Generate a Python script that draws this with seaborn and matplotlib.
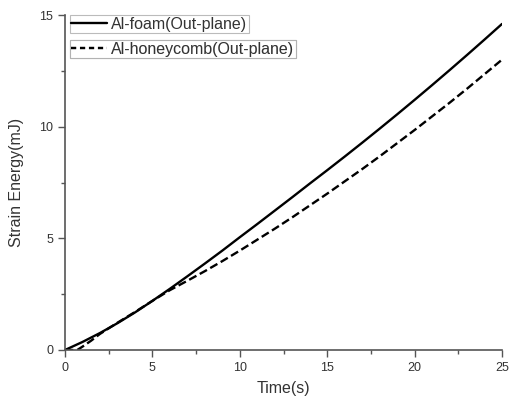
import pandas as pd
import matplotlib.pyplot as plt
import seaborn as sns
from matplotlib.ticker import MultipleLocator
from matplotlib.lines import Line2D

sns.set_style('ticks')
plt.rcParams['font.family'] = ['Liberation Sans', 'DejaVu Sans']
TEXT_COLOR = '#333333'

# Data
foam_time = [0, 1, 2, 3, 4, 5, 6, 7, 8, 9, 10, 11, 12, 13, 14, 15,
             16, 17, 18, 19, 20, 21, 22, 23, 24, 25]
foam_energy = [0, 0.36, 0.76, 1.20, 1.68, 2.20, 2.74, 3.30, 3.87, 4.45, 5.05,
               5.64, 6.24, 6.84, 7.45, 8.05, 8.66, 9.28, 9.91, 10.55, 11.20,
               11.86, 12.53, 13.21, 13.90, 14.60]
honey_time = [0, 0.7, 1, 1.5, 2, 3, 4, 5, 6, 7, 8, 9, 10, 11, 12, 13, 14, 15,
              16, 17, 18, 19, 20, 21, 22, 23, 24, 25]
honey_energy = [0, 0, 0.15, 0.42, 0.72, 1.22, 1.70, 2.20, 2.68, 3.10, 3.53,
                3.98, 4.45, 4.94, 5.43, 5.94, 6.47, 7.00, 7.55, 8.10, 8.67,
                9.26, 9.85, 10.46, 11.07, 11.70, 12.35, 13.00]
labels = ['Al-foam(Out-plane)', 'Al-honeycomb(Out-plane)']

df = pd.concat([
    pd.DataFrame({'time': foam_time, 'energy': foam_energy, 'material': labels[0]}),
    pd.DataFrame({'time': honey_time, 'energy': honey_energy, 'material': labels[1]}),
])

fig = plt.figure(figsize=(5.09, 4.0), dpi=100)
ax = fig.add_axes([65 / 509, 50 / 400, 437 / 509, 335 / 400])

sns.lineplot(data=df, x='time', y='energy', style='material', style_order=labels,
             dashes={labels[0]: '', labels[1]: (3.5, 1.6)}, color='black',
             linewidth=1.7, legend=False, ax=ax)

ax.set_xlim(0, 25)
ax.set_ylim(0, 15)
ax.xaxis.set_major_locator(MultipleLocator(5))
ax.xaxis.set_minor_locator(MultipleLocator(2.5))
ax.yaxis.set_major_locator(MultipleLocator(5))
ax.yaxis.set_minor_locator(MultipleLocator(2.5))
ax.tick_params(which='major', length=5, width=1, colors='#555555', labelsize=9,
               labelcolor=TEXT_COLOR)
ax.tick_params(which='minor', length=3, width=1, colors='#555555')
for side in ['top', 'right']:
    ax.spines[side].set_visible(False)
for side in ['left', 'bottom']:
    ax.spines[side].set_color('#555555')
    ax.spines[side].set_linewidth(1.2)

ax.set_xlabel('Time(s)', fontsize=11.5, color=TEXT_COLOR, labelpad=5)
ax.set_ylabel('Strain Energy(mJ)', fontsize=11.5, color=TEXT_COLOR, labelpad=11)

# two boxed legend entries, like the original
handles = [Line2D([], [], color='black', lw=1.7),
           Line2D([], [], color='black', lw=1.7, dashes=(2.2, 1.6))]
tops = [1.0, 0.925]
for h, lab, top in zip(handles, labels, tops):
    leg = ax.legend([h], [lab], loc='upper left',
                    bbox_to_anchor=(0.011, top), frameon=True,
                    fancybox=False, edgecolor='#aaaaaa', fontsize=11.5,
                    handlelength=2.25, handletextpad=0.25, borderpad=0.1,
                    borderaxespad=0.0, labelcolor=TEXT_COLOR)
    leg.get_frame().set_linewidth(0.8)
    ax.add_artist(leg)

fig.savefig('out.png', dpi=100)
